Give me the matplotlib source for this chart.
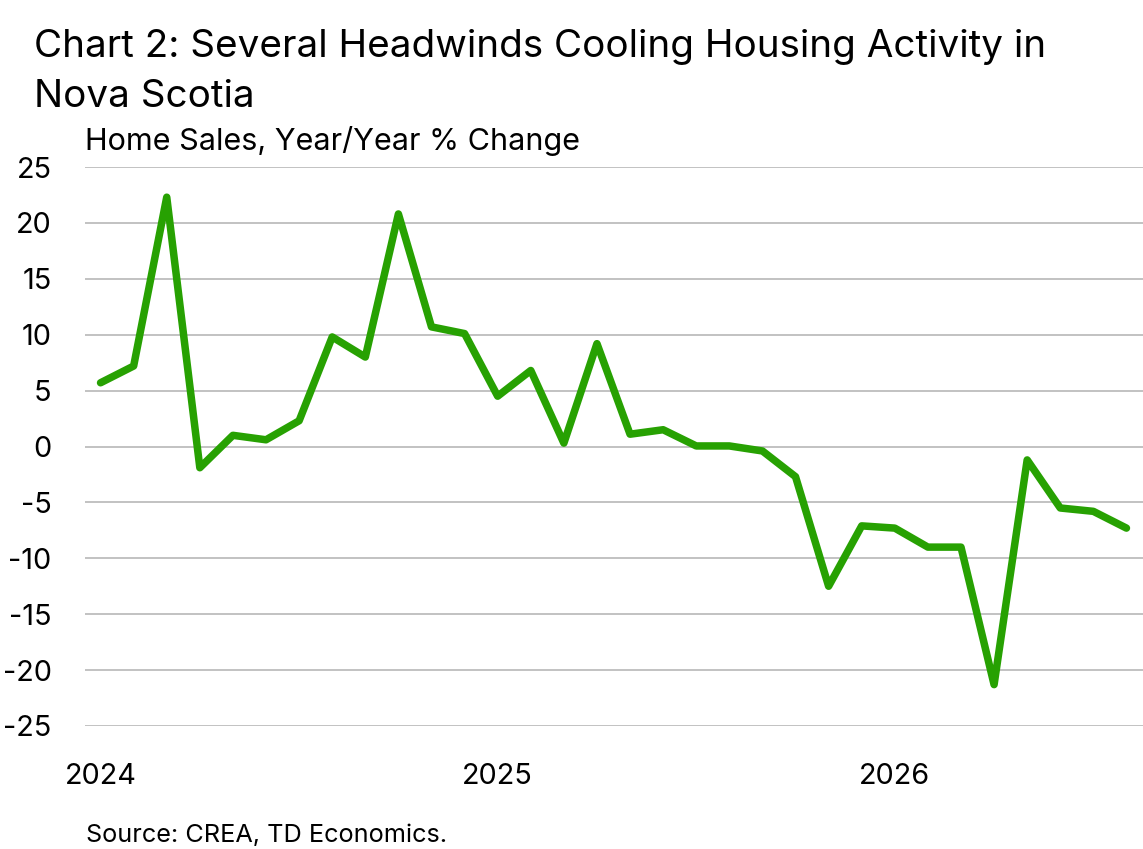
import matplotlib
matplotlib.use("Agg")
import matplotlib.pyplot as plt
import pandas as pd

plt.rcParams['font.family'] = ['Inter', 'DejaVu Sans']

# Data: Nova Scotia home sales, year/year % change (monthly)
months = pd.date_range("2024-01-01", periods=32, freq="MS")
values = [5.7, 7.2, 22.3, -1.9, 1.0, 0.6, 2.3, 9.8, 8.0, 20.8, 10.7, 10.1,
          4.5, 6.8, 0.3, 9.2, 1.1, 1.5, 0.05, 0.05, -0.4, -2.7, -12.5, -7.1,
          -7.3, -9.0, -9.0, -21.3, -1.2, -5.5, -5.8, -7.3]
year_ticks = ["2024", "2025", "2026"]
y_ticks = [25, 20, 15, 10, 5, 0, -5, -10, -15, -20, -25]

title_lines = ["Chart 2: Several Headwinds Cooling Housing Activity in", "Nova Scotia"]
subtitle = "Home Sales, Year/Year % Change"
source = "Source: CREA, TD Economics."

W, H = 1143, 849
fig = plt.figure(figsize=(W / 100, H / 100), dpi=100)
ax = fig.add_axes([85 / W, 1 - 726 / H, 1 - 85 / W, (726 - 167) / H])

x = list(range(len(values)))
ax.plot(x, values, color="#27a102", lw=5.4, solid_joinstyle="round",
        solid_capstyle="round", zorder=3)

ax.set_ylim(-25, 25)
ax.set_yticks(y_ticks)
ax.set_yticklabels([str(v) for v in y_ticks])
ax.set_xlim(-0.47, 31.5)
ax.set_xticks([0, 12, 24])
ax.set_xticklabels(year_ticks)

ax.grid(axis="y", color="#bdbdbd", lw=1.3, zorder=0)
ax.grid(axis="x", visible=False)
for s in ax.spines.values():
    s.set_visible(False)
ax.tick_params(axis="both", length=0, labelsize=20.8, colors="black")
ax.tick_params(axis="y", pad=24)
ax.tick_params(axis="x", pad=27)
for lbl in ax.get_yticklabels():
    lbl.set_horizontalalignment("right")

fig.text(34 / W, 1 - 57 / H, title_lines[0], fontsize=27.8, va="baseline", ha="left")
fig.text(34 / W, 1 - 107 / H, title_lines[1], fontsize=27.8, va="baseline", ha="left")
fig.text(85 / W, 1 - 150 / H, subtitle, fontsize=22, va="baseline", ha="left")
fig.text(86 / W, 1 - 841.5 / H, source, fontsize=18.2, va="baseline", ha="left")

fig.savefig("out.png", dpi=100, facecolor="white")
